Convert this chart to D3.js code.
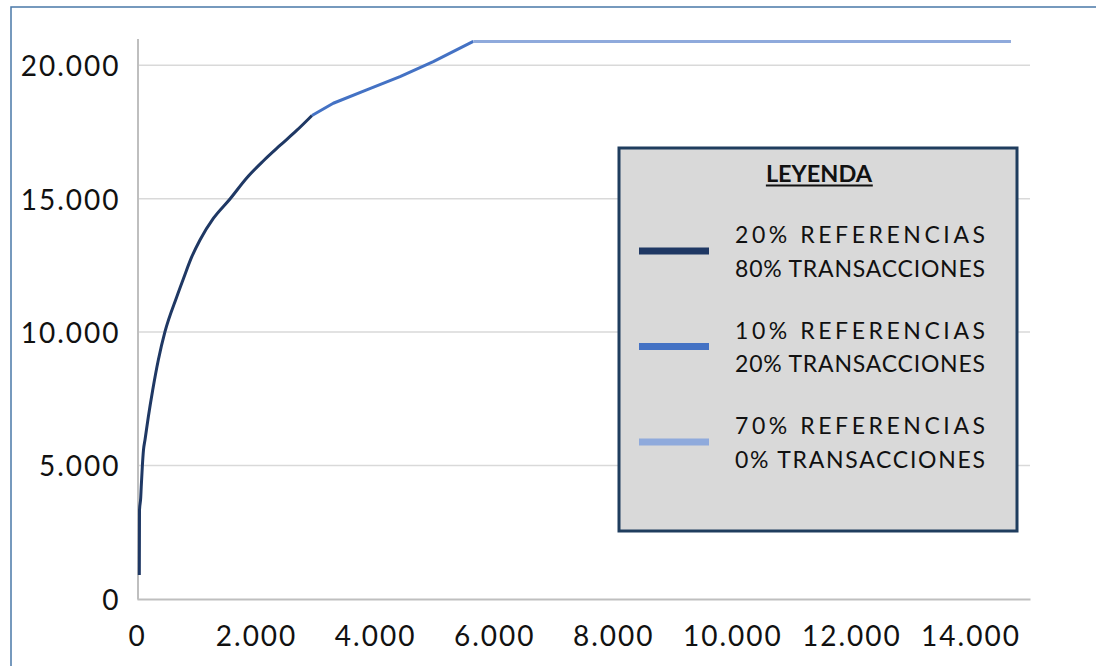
<!DOCTYPE html>
<html>
<head>
<meta charset="utf-8">
<script src="https://cdn.jsdelivr.net/npm/d3@7"></script>
<style>
  html, body { margin: 0; padding: 0; background: #fff; }
  svg { display: block; font-family: Lato, "Open Sans", sans-serif; }
</style>
</head>
<body>
<svg id="chart" width="1096" height="666"></svg>
<script>
// Cumulative transactions against number of references (ABC curve)
const refsA = [39, 42, 62, 71, 89, 109, 134, 190, 264, 358, 470, 667, 778, 919, 1058, 1282, 1562, 1843, 2121, 2402, 2682, 2939];
const transA = [899, 3335, 3784, 4197, 4946, 5583, 5958, 6820, 7831, 8955, 10016, 11316, 11990, 12815, 13452, 14257, 14988, 15775, 16412, 16993, 17555, 18117];
const refsB = [2939, 3297, 3858, 4418, 4977, 5649];
const transB = [18117, 18574, 19072, 19571, 20133, 20890];
const refsC = [5649, 14680];
const transC = [20890, 20890];

const xTicks = [0, 2000, 4000, 6000, 8000, 10000, 12000, 14000];
const yTicks = [0, 5000, 10000, 15000, 20000];

const legendTitle = "LEYENDA";
const legendLines = [
  ["20% REFERENCIAS", "80% TRANSACCIONES"],
  ["10% REFERENCIAS", "20% TRANSACCIONES"],
  ["70% REFERENCIAS", "0% TRANSACCIONES"]
];
const seriesColors = ["#1F3864", "#4472C4", "#8FAADC"];

const svg = d3.select("#chart");
const esLocale = d3.formatLocale({ decimal: ",", thousands: ".", grouping: [3], currency: ["", ""] });
const fmt = esLocale.format(",d");

const x = d3.scaleLinear().domain([0, 15000]).range([137, 1030]);
const y = d3.scaleLinear().domain([0, 21000]).range([599, 38.5]);

// outer frame
svg.append("rect")
  .attr("x", 11).attr("y", 7).attr("width", 1200).attr("height", 800)
  .attr("fill", "none").attr("stroke", "#4A78A8").attr("stroke-width", 1.5);

// horizontal gridlines
svg.append("g").selectAll("line")
  .data(yTicks.filter(d => d > 0))
  .join("line")
  .attr("x1", x(0)).attr("x2", x(15000))
  .attr("y1", d => y(d)).attr("y2", d => y(d))
  .attr("stroke", "#D9D9D9").attr("stroke-width", 1.5);

// axes
const yAxis = svg.append("g")
  .attr("transform", `translate(${x(0) + 0.5},0)`)
  .call(d3.axisLeft(y).tickValues(yTicks).tickSize(0).tickPadding(17).tickFormat(fmt));
yAxis.select(".domain").attr("stroke", "#BFBFBF").attr("stroke-width", 2);
yAxis.selectAll("text")
  .attr("font-family", "Lato, 'Open Sans', sans-serif")
  .attr("font-size", 28).attr("fill", "#111")
  .attr("letter-spacing", 2)
  .attr("dy", "0.37em");

const xAxis = svg.append("g")
  .attr("transform", `translate(0,${y(0)})`)
  .call(d3.axisBottom(x).tickValues(xTicks).tickSize(0).tickPadding(27).tickFormat(fmt));
xAxis.select(".domain").attr("stroke", "#BFBFBF").attr("stroke-width", 2);
xAxis.selectAll("text")
  .attr("font-family", "Lato, 'Open Sans', sans-serif")
  .attr("font-size", 28).attr("fill", "#111")
  .attr("letter-spacing", 2)
  .attr("dy", "0.71em");

// series
const series = [
  { xs: refsA, ys: transA, curve: d3.curveMonotoneX },
  { xs: refsB, ys: transB, curve: d3.curveLinear },
  { xs: refsC, ys: transC, curve: d3.curveLinear }
];
series.forEach((s, i) => {
  const pts = s.xs.map((v, k) => [v, s.ys[k]]);
  svg.append("path")
    .datum(pts)
    .attr("fill", "none")
    .attr("stroke", seriesColors[i])
    .attr("stroke-width", 3)
    .attr("stroke-linejoin", "round")
    .attr("d", d3.line().x(d => x(d[0])).y(d => y(d[1])).curve(s.curve));
});

// legend box
const lg = svg.append("g");
lg.append("rect")
  .attr("x", 619).attr("y", 148).attr("width", 398).attr("height", 383)
  .attr("fill", "#D9D9D9").attr("stroke", "#1F3D5E").attr("stroke-width", 3);

const title = lg.append("text")
  .attr("x", 819).attr("y", 182)
  .attr("text-anchor", "middle")
  .attr("font-size", 23.5).attr("font-weight", 700).attr("fill", "#111")
  .text(legendTitle);
const tb = title.node().getBBox();
lg.append("line")
  .attr("x1", tb.x).attr("x2", tb.x + tb.width)
  .attr("y1", 185.5).attr("y2", 185.5)
  .attr("stroke", "#111").attr("stroke-width", 1.8);

legendLines.forEach((lines, i) => {
  const cy = 251 + i * 95.5;
  lg.append("line")
    .attr("x1", 639).attr("x2", 709)
    .attr("y1", cy).attr("y2", cy)
    .attr("stroke", seriesColors[i]).attr("stroke-width", 7);
  lines.forEach((t, j) => {
    lg.append("text")
      .attr("x", 735).attr("y", cy - 8 + j * 33.5)
      .attr("font-size", 23).attr("fill", "#111")
      .attr("textLength", 250).attr("lengthAdjust", "spacing")
      .text(t);
  });
});
</script>
</body>
</html>
